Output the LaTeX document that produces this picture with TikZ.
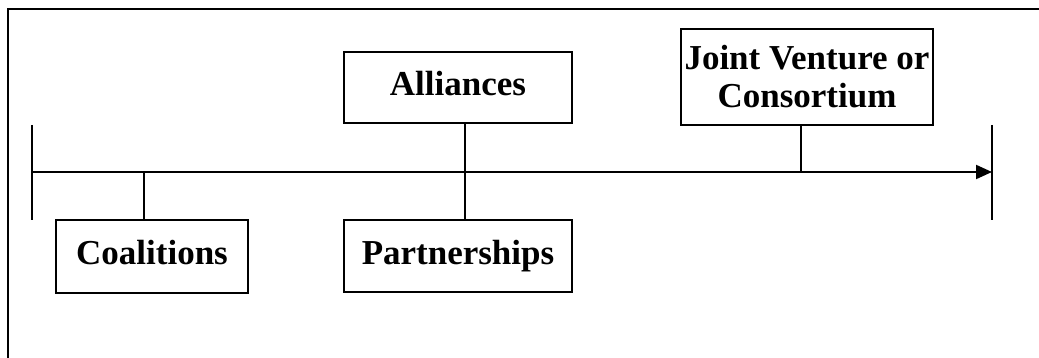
\documentclass[tikz,border=0pt]{standalone}
\usepackage{fontspec}
\setmainfont{Liberation Serif}
\usetikzlibrary{arrows.meta}
\begin{document}
\begin{tikzpicture}[x=1pt,y=-1pt,
  lbl/.style={draw=black, line width=2pt, rectangle, inner sep=0pt, align=center,
    font=\fontsize{35}{38}\selectfont\bfseries},
  one/.style={text height=23pt, text depth=6pt},
  conn/.style={line width=2pt},
  bar/.style={line width=2.8pt}]
\useasboundingbox (0,0) rectangle (1039,358);
% outer frame (top and left only)
\draw[line width=2.6pt] (1039,9) -- (8,9) -- (8,358);
% axis
\coordinate (L) at (32,172);
\coordinate (R) at (992,172);
\draw[bar] (32,125) -- (32,220);
\draw[bar] (992,125) -- (992,220);
\draw[conn, -{Triangle[length=16pt,width=14pt]}] (L) -- (R);
% nodes
\node[lbl, one, minimum width=192pt, minimum height=73pt] (coal) at (152,256.5) {Coalitions};
\node[lbl, one, minimum width=228pt, minimum height=71pt] (alli) at (458,87.5) {Alliances};
\node[lbl, one, minimum width=228pt, minimum height=72pt] (part) at (458,256) {Partnerships};
\node[lbl, minimum width=252pt, minimum height=96pt] (jv) at (807,77) {Joint Venture or\\Consortium};
% stems
\coordinate (c1) at (144,172);
\coordinate (a1) at (465,172);
\coordinate (j1) at (801,172);
\draw[conn] (c1) -- (c1 |- coal.north);
\draw[conn] (a1 |- alli.south) -- (a1 |- part.north);
\draw[conn] (j1) -- (j1 |- jv.south);
\end{tikzpicture}
\end{document}
